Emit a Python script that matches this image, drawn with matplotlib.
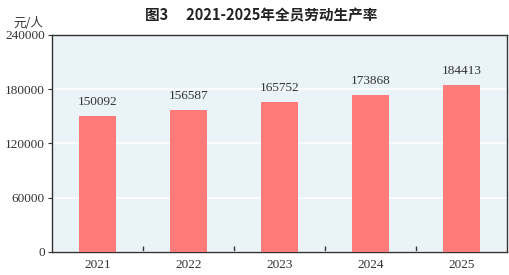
import numpy as np
import matplotlib.pyplot as plt

plt.rcParams['font.family'] = ['Liberation Serif', 'Noto Sans CJK SC']

years = ['2021', '2022', '2023', '2024', '2025']
values = [150092, 156587, 165752, 173868, 184413]
yticks = [0, 60000, 120000, 180000, 240000]

fig = plt.figure(figsize=(5.09, 2.75), dpi=100)
ax = fig.add_axes([0.102, 0.084, 0.894, 0.789])
ax.set_facecolor('#eaf3f7')

x = np.arange(len(years))
ax.bar(x, values, width=0.4, color='#ff7b7b', zorder=3)
for xi, v in zip(x, values):
    ax.text(xi, v + 9000, str(v), ha='center', va='bottom', fontsize=9.5, color='#333333')

ax.set_xlim(-0.5, len(years) - 0.5)
ax.set_ylim(0, 240000)
ax.set_yticks(yticks)
ax.set_yticklabels([str(t) for t in yticks], fontsize=9.5, color='#333333')
ax.yaxis.grid(True, color='white', linewidth=1.2, zorder=0)
ax.set_axisbelow(True)

ax.set_xticks(x)
ax.set_xticklabels(years, fontsize=9.5, color='#333333')
ax.tick_params(axis='x', length=0, pad=5)
ax.tick_params(axis='y', length=3, width=0.8, color='#333333', pad=2)
# category separators on x axis
ax.set_xticks(x[:-1] + 0.5, minor=True)
ax.tick_params(axis='x', which='minor', direction='in', length=4, width=1, color='#333333')

for s in ax.spines.values():
    s.set_color('#333333')
    s.set_linewidth(1.0)

fig.text(0.513, 0.945, '图3\u2003 2021-2025年全员劳动生产率', ha='center', va='center',
         fontsize=10.5, fontweight='bold', family=['Noto Sans CJK SC'], color='#222222')
fig.text(0.055, 0.915, '元/人', ha='center', va='center', fontsize=9,
         family=['Noto Sans CJK SC'], color='#333333')

fig.savefig('out.png', dpi=100)
